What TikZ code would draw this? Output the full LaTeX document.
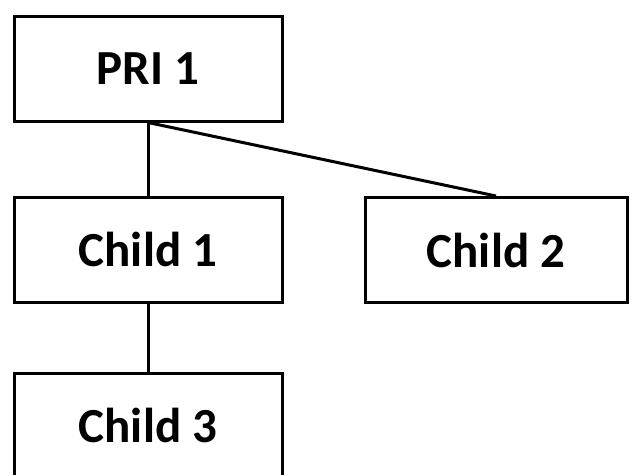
\documentclass[tikz,border=0pt]{standalone}
\usepackage{fontspec}
\setmainfont{Carlito}
\usetikzlibrary{positioning}

\begin{document}
\begin{tikzpicture}[-,auto,node distance=73pt,line width=3pt,box node/.style={rectangle,draw=black,inner sep=0pt,minimum width=268pt,minimum height=105pt,font=\fontsize{49}{51}\selectfont\bfseries}]
                    \useasboundingbox (0,0) rectangle (631pt,-474pt);
                    \node[box node] (pri) at (148pt,-68.5pt) {PRI 1};
                    \node[box node] (c1) [below = 73pt of pri] {Child 1};
                    \node[box node, minimum width=262pt] (c2) [right = 80pt of c1, yshift=-0.5pt] {Child 2};
                    \node[box node] (c3) [below = 68pt of c1] {Child 3};

                    \path
                        (pri.south) edge (c1)
                        (pri.south) edge (c2.north)
                        (c1) edge (c3)
                        ;
                \end{tikzpicture}
\end{document}
